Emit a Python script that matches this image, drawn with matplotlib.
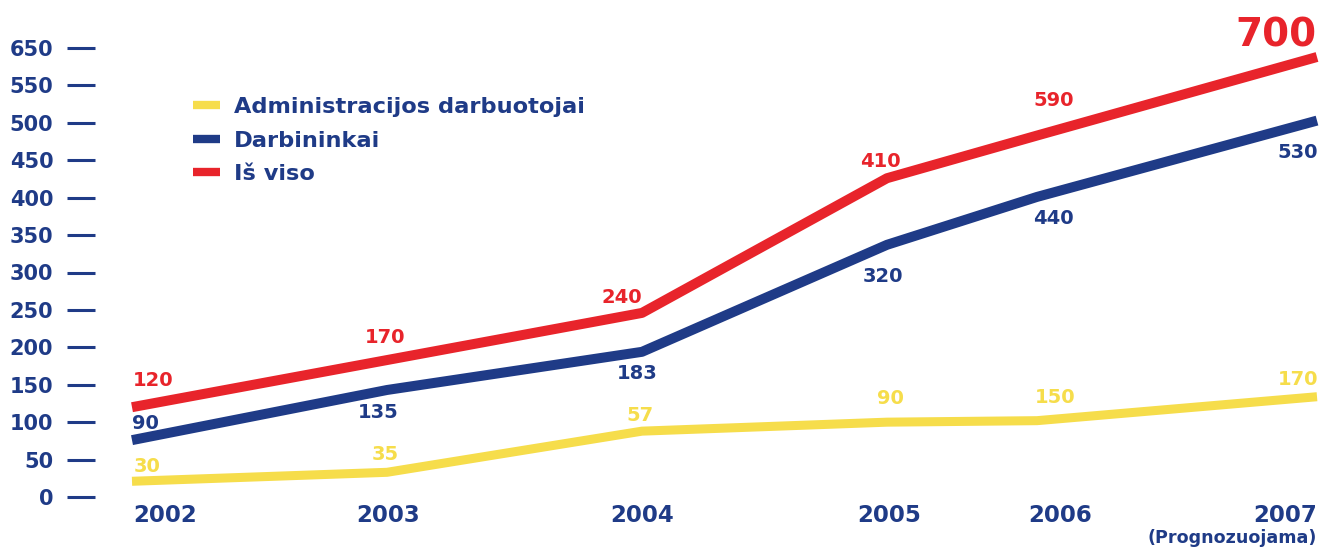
import matplotlib.pyplot as plt
from matplotlib.lines import Line2D

years = ['2002', '2003', '2004', '2005', '2006', '2007']
# values as drawn (the lines in the picture do not follow the printed numbers exactly)
admin = [21, 33, 88, 100, 102, 134]
workers = [76, 143, 194, 337, 401, 503]
total = [120, 183, 246, 426, 483, 588]
# numbers printed on the chart
admin_lbl = ['30', '35', '57', '90', '150', '170']
workers_lbl = ['90', '135', '183', '320', '440', '530']
total_lbl = ['120', '170', '240', '410', '590', '700']
y_ticks = [0, 50, 100, 150, 200, 250, 300, 350, 400, 450, 500, 550, 600]
y_tick_labels = ['0', '50', '100', '150', '200', '250', '300', '350', '400',
                 '450', '500', '550', '650']
series_names = ['Administracijos darbuotojai', 'Darbininkai', 'Iš viso']

# uneven horizontal spacing of the years, as in the original
x_pos = [0.37, 2.92, 5.47, 7.92, 9.42, 12.22]

navy = '#1f3b87'
red = '#e8242b'
yellow = '#f6dd4b'

fig = plt.figure(figsize=(13.22, 5.47), dpi=100)
ax = fig.add_axes([95 / 1322, 50 / 547, 1222 / 1322, 449 / 547])
ax.set_xlim(0, 12.22)
ax.set_ylim(0, 600)
for s in ax.spines.values():
    s.set_visible(False)

lw = 7.2
ax.plot(x_pos, admin, color=yellow, lw=6.5, solid_capstyle='butt', clip_on=False)
ax.plot(x_pos, workers, color=navy, lw=lw, solid_capstyle='butt', clip_on=False)
ax.plot(x_pos, total, color=red, lw=lw, solid_capstyle='butt', clip_on=False)

ax.set_xticks([])
ax.set_yticks(y_ticks)
ax.set_yticklabels(y_tick_labels, fontsize=15, fontweight='bold', color=navy)
ax.tick_params(axis='y', direction='out', length=20, width=2.2, color=navy, pad=10)

# value labels: offsets in pixels from the line vertex
off_total = [(21, 27), (-2, 23), (-20, 15), (-7, 17), (17, 35)]
off_workers = [(13, 17), (-9, -23), (-5, -22), (-4, -32), (16, -22), (-19, -32)]
off_admin = [(15, 15), (-2, 18), (-2, 16), (3, 24), (18, 23), (-19, 17)]

def put_labels(vals, labels, offs, color):
    for x, v, t, o in zip(x_pos, vals, labels, offs):
        ax.annotate(t, (x, v), xytext=o, textcoords='offset pixels',
                    ha='center', va='center', fontsize=14, fontweight='bold',
                    color=color, annotation_clip=False)

put_labels(total[:5], total_lbl[:5], off_total, red)
put_labels(workers, workers_lbl, off_workers, navy)
put_labels(admin, admin_lbl, off_admin, yellow)
ax.annotate(total_lbl[5], (x_pos[5], total[5]), xytext=(0, 21),
            textcoords='offset pixels', ha='right', va='center',
            fontsize=28, fontweight='bold', color=red, annotation_clip=False)

# year labels
year_off = [(1, -18), (1, -18), (0, -18), (2, -18), (23, -18), (0, -18)]
year_ha = ['left', 'center', 'center', 'center', 'center', 'right']
for x, t, o, h in zip(x_pos, years, year_off, year_ha):
    ax.annotate(t, (x, 0), xytext=o, textcoords='offset pixels', ha=h,
                va='center', fontsize=16.5, fontweight='bold', color=navy,
                annotation_clip=False)
ax.annotate('(Prognozuojama)', (x_pos[5], 0), xytext=(0, -41),
            textcoords='offset pixels', ha='right', va='center',
            fontsize=12.6, fontweight='bold', color=navy, annotation_clip=False)

handles = [Line2D([], [], color=c, lw=6, solid_capstyle='butt')
           for c in [yellow, navy, red]]
leg = ax.legend(handles, series_names, loc='upper left',
                bbox_to_anchor=(193 / 1322, 1 - 97 / 547),
                bbox_transform=fig.transFigure, frameon=False,
                borderpad=0, borderaxespad=0, handlelength=1.2,
                handletextpad=0.62, labelspacing=0.6,
                prop={'size': 16.2, 'weight': 'bold'})
for t in leg.get_texts():
    t.set_color(navy)

fig.savefig('out.png', dpi=100)
